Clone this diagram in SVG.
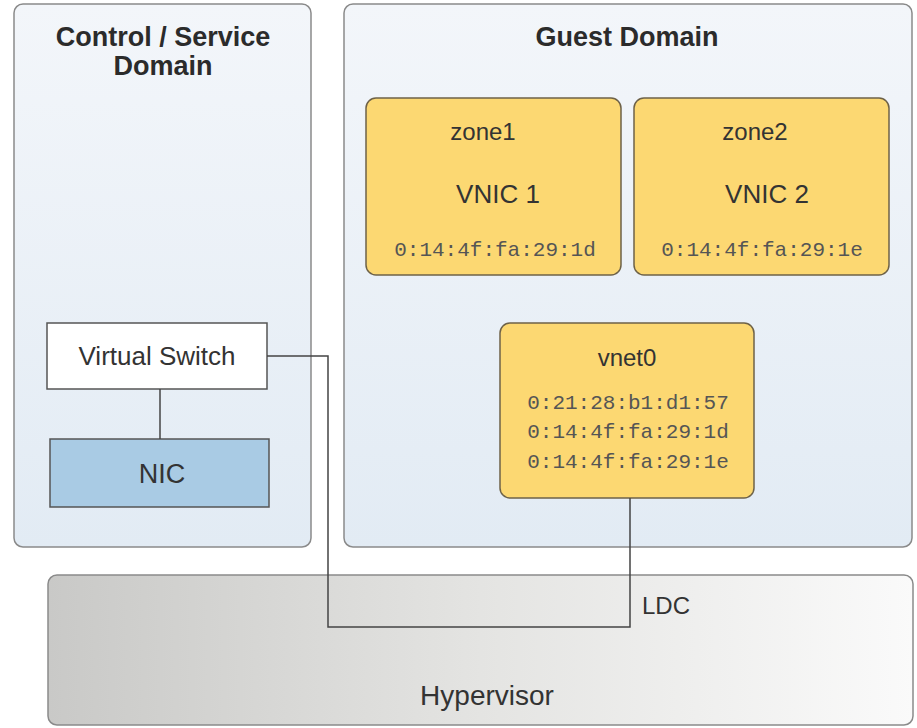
<svg xmlns="http://www.w3.org/2000/svg" width="917" height="728" viewBox="0 0 917 728">
<defs>
<linearGradient id="dom" x1="0" y1="0" x2="0" y2="1">
<stop offset="0" stop-color="#f3f6fa"/>
<stop offset="1" stop-color="#e2ebf4"/>
</linearGradient>
<linearGradient id="hyp" x1="0" y1="0" x2="1" y2="0">
<stop offset="0" stop-color="#c9c9c7"/>
<stop offset="0.5" stop-color="#e4e4e2"/>
<stop offset="1" stop-color="#fafafa"/>
</linearGradient>
<style>
.dom{fill:url(#dom);stroke:#8a8a8a;stroke-width:1.5}
.zone{fill:#fcd872;stroke:#6e6248;stroke-width:1.5}
.h{font-family:"Liberation Sans",Arial,sans-serif;font-weight:bold;font-size:27px;fill:#2b2b2b;text-anchor:middle}
.t{font-family:"Liberation Sans",Arial,sans-serif;font-size:25px;fill:#333;text-anchor:middle}
.m{font-family:"Liberation Mono","Courier New",monospace;font-size:21px;fill:#555;text-anchor:middle}
.c{fill:none;stroke:#444;stroke-width:1.5}
</style>
</defs>
<rect width="917" height="728" fill="#ffffff"/>
<g id="hypervisor">
<rect x="48" y="575" width="865" height="150" rx="9" fill="url(#hyp)" stroke="#8a8a8a" stroke-width="1.5"/>
<text class="t" x="487" y="705" style="font-size:28px">Hypervisor</text>
</g>
<g id="control-domain">
<rect class="dom" x="14" y="4" width="297" height="543" rx="9"/>
<text class="h" x="163" y="46">Control / Service</text>
<text class="h" x="163" y="75">Domain</text>
</g>
<g id="guest-domain">
<rect class="dom" x="344" y="4" width="568" height="543" rx="9"/>
<text class="h" x="627" y="46">Guest Domain</text>
</g>
<g id="virtual-switch">
<rect x="47" y="323" width="220" height="66" fill="#ffffff" stroke="#555" stroke-width="1.5"/>
<text class="t" x="157" y="365" style="font-size:26px">Virtual Switch</text>
</g>
<g id="nic">
<rect x="50" y="439" width="219" height="68" fill="#a9cbe4" stroke="#555" stroke-width="1.5"/>
<text class="t" x="162" y="483" style="font-size:27px">NIC</text>
</g>
<g id="zone1">
<rect class="zone" x="366" y="98" width="255" height="177" rx="10"/>
<text class="t" x="483" y="140" style="font-size:24px">zone1</text>
<text class="t" x="498" y="203" style="font-size:26px">VNIC 1</text>
<text class="m" x="495" y="256">0:14:4f:fa:29:1d</text>
</g>
<g id="zone2">
<rect class="zone" x="634" y="98" width="255" height="177" rx="10"/>
<text class="t" x="755" y="140" style="font-size:24px">zone2</text>
<text class="t" x="767" y="203" style="font-size:26px">VNIC 2</text>
<text class="m" x="762" y="256">0:14:4f:fa:29:1e</text>
</g>
<g id="vnet0">
<rect class="zone" x="500" y="323" width="254" height="175" rx="10"/>
<text class="t" x="627" y="366" style="font-size:24px">vnet0</text>
<text class="m" x="628" y="409">0:21:28:b1:d1:57</text>
<text class="m" x="628" y="438">0:14:4f:fa:29:1d</text>
<text class="m" x="628" y="468">0:14:4f:fa:29:1e</text>
</g>
<g id="connectors">
<path class="c" d="M160 389 V439"/>
<path class="c" d="M267 356 H328 V627 H630 V498"/>
<text class="t" x="666" y="614" style="font-size:24px">LDC</text>
</g>
</svg>
